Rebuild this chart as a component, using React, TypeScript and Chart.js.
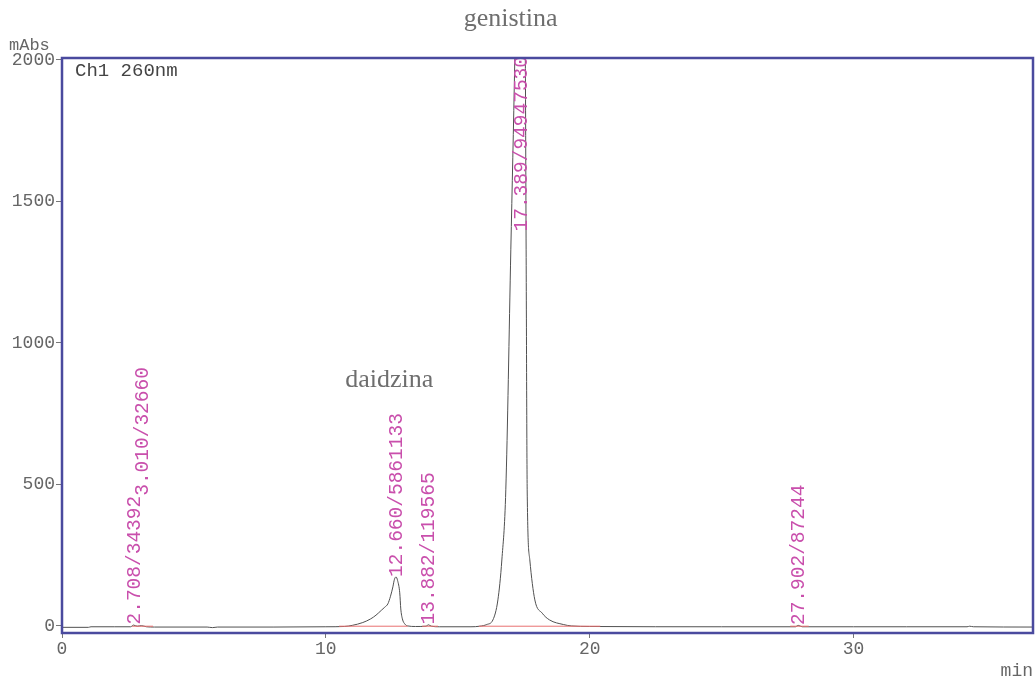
import React, { useEffect, useRef } from "react";
import { Chart, registerables } from "chart.js";

Chart.register(...registerables);

// Chromatogram trace (time in min, absorbance in mAbs)
const traceTime = [
  0.0, 1.0, 1.1, 2.0, 2.6, 2.708, 2.85, 3.01, 3.2, 3.5, 5.5, 5.7, 5.9, 8.0, 10.0,
  10.7, 11.0, 11.4, 11.7, 11.9, 12.1, 12.23, 12.35, 12.45, 12.54, 12.6, 12.66, 12.72,
  12.8, 12.84, 12.9, 13.0, 13.1, 13.4, 13.8, 13.882, 14.0, 14.3, 15.5, 15.83, 16.1,
  16.33, 16.52, 16.67, 16.82, 17.01, 17.16, 17.25, 17.39, 17.5, 17.56, 17.59, 17.63,
  17.73, 17.92, 18.2, 18.48, 19.0, 19.3, 20.0, 25.0, 27.8, 27.902, 28.05, 30.0, 32.0,
  34.3, 34.4, 34.55, 36.8,
];
const traceAbs = [
  -5, -5, -3, -3, -3, 3, -1, 1, -3, -4, -4, -6, -4, -4, -3,
  -2, 2, 12, 25, 38, 55, 66, 78, 105, 138, 165, 173, 160,
  117, 60, 25, 6, 0, -2, -1, 4, -1, -3, -3, -1, 5,
  21, 92, 233, 481, 1329, 2000, 2500, 2900, 2500, 2000, 1329, 481,
  233, 92, 45, 21, 5, 0, -2, -3, -3, 2, -3, -3, -3,
  -3, -1, -3, -4,
];

// Integration baselines (red)
const baseStart = [2.65, 10.5, 13.65, 15.8, 27.6];
const baseEnd = [3.45, 13.1, 14.25, 20.4, 28.3];
const baseLevel = [-1, -1, -1, -1, -1];

// Peak annotations
const peakTimes = [2.708, 3.01, 12.66, 13.882, 17.389, 27.902];
const peakAreas = [34392, 32660, 5861133, 119565, 94947530, 87244];
const peakHeights = [5, 3, 173, 5, 2900, 3];

// Compound names and where they sit (time, mAbs)
const compoundNames = ["genistina", "daidzina"];
const compoundTimes = [17.0, 12.4];
const compoundAbs = [2120, 845];

// Axis ticks
const xTickValues = [0, 10, 20, 30];
const yTickValues = [0, 500, 1000, 1500, 2000];

const MONO = '"Liberation Mono", "DejaVu Sans Mono", monospace';
const SERIF = '"Liberation Serif", "DejaVu Serif", serif';

const annotPlugin = {
  id: "annot",
  afterDraw(chart: any) {
    const { ctx, chartArea: a, scales } = chart;
    const x = scales.x;
    const y = scales.y;
    ctx.save();

    // peak labels
    ctx.font = `19.5px ${MONO}`;
    ctx.fillStyle = "#c94fac";
    ctx.textBaseline = "middle";
    ctx.textAlign = "left";
    let prevX = -1e9;
    let prevTop = 0;
    peakTimes.forEach((t, i) => {
      const text = `${t.toFixed(3)}/${peakAreas[i]}`;
      const w = ctx.measureText(text).width;
      const px = x.getPixelForValue(t);
      let bottom = y.getPixelForValue(peakHeights[i]);
      if (Math.abs(px - prevX) < 14) bottom = Math.min(bottom, prevTop);
      if (bottom - w < a.top) bottom = a.top + w - 2;
      ctx.save();
      ctx.translate(px + 1, bottom);
      ctx.rotate(-Math.PI / 2);
      ctx.fillText(text, 0, 0);
      ctx.restore();
      prevX = px;
      prevTop = bottom - w;
    });

    // compound names
    ctx.font = `26px ${SERIF}`;
    ctx.fillStyle = "#6e6e6e";
    ctx.textAlign = "center";
    ctx.textBaseline = "alphabetic";
    compoundNames.forEach((n, i) => {
      ctx.fillText(n, x.getPixelForValue(compoundTimes[i]), y.getPixelForValue(compoundAbs[i]));
    });

    // units & channel
    ctx.textAlign = "left";
    ctx.textBaseline = "middle";
    ctx.font = `17px ${MONO}`;
    ctx.fillStyle = "#666";
    ctx.fillText("mAbs", 9, 45);
    ctx.font = `19px ${MONO}`;
    ctx.fillStyle = "#444";
    ctx.fillText("Ch1 260nm", 75, 71);

    // frame
    ctx.strokeStyle = "#4a4a9e";
    ctx.lineWidth = 2.5;
    ctx.strokeRect(a.left, a.top, a.right - a.left, a.bottom - a.top);
    ctx.restore();
  },
};

export default function App() {
  const ref = useRef<HTMLCanvasElement | null>(null);

  useEffect(() => {
    if (!ref.current) return;
    const trace = traceTime.map((t, i) => ({ x: t, y: traceAbs[i] }));
    const base: any[] = [];
    baseStart.forEach((s, i) => {
      base.push({ x: s, y: baseLevel[i] });
      base.push({ x: baseEnd[i], y: baseLevel[i] });
      base.push({ x: baseEnd[i], y: null });
    });

    const chart = new Chart(ref.current, {
      type: "line",
      data: {
        datasets: [
          {
            data: base,
            borderColor: "#e87070",
            borderWidth: 1,
            pointRadius: 0,
            spanGaps: false,
          },
          {
            data: trace,
            borderColor: "#505050",
            borderWidth: 1,
            pointRadius: 0,
            cubicInterpolationMode: "monotone",
          },
        ],
      },
      options: {
        animation: false,
        responsive: false,
        devicePixelRatio: 1,
        layout: { padding: { top: 58, right: 3, left: 0, bottom: 0 } },
        plugins: { legend: { display: false }, tooltip: { enabled: false } },
        scales: {
          x: {
            type: "linear",
            min: 0,
            max: 36.8,
            afterFit(s: any) {
              s.height = 53;
            },
            afterBuildTicks(s: any) {
              s.ticks = xTickValues.map((v) => ({ value: v }));
            },
            ticks: {
              maxRotation: 0,
              padding: 0,
              color: "#666",
              font: { family: MONO, size: 18 },
              callback: (v: any) => String(v),
            },
            grid: { drawOnChartArea: false, drawTicks: true, tickLength: 5, color: "#777" },
            border: { display: false },
            title: {
              display: true,
              text: "min",
              align: "end",
              color: "#666",
              font: { family: MONO, size: 18 },
              padding: { top: 0, bottom: 4 },
            },
          },
          y: {
            type: "linear",
            min: -25,
            max: 2007,
            afterFit(s: any) {
              s.width = 62;
            },
            afterBuildTicks(s: any) {
              s.ticks = yTickValues.map((v) => ({ value: v }));
            },
            ticks: {
              padding: 1,
              color: "#666",
              font: { family: MONO, size: 18 },
              callback: (v: any) => String(v),
            },
            grid: { drawOnChartArea: false, drawTicks: true, tickLength: 6, color: "#777" },
            border: { display: false },
          },
        },
      },
      plugins: [annotPlugin],
    } as any);
    return () => chart.destroy();
  }, []);

  return (
    <div style={{ position: "absolute", left: 0, top: 0, width: 1036, height: 686, background: "#fff" }}>
      <canvas ref={ref} width={1036} height={686} style={{ width: 1036, height: 686, display: "block" }} />
    </div>
  );
}
